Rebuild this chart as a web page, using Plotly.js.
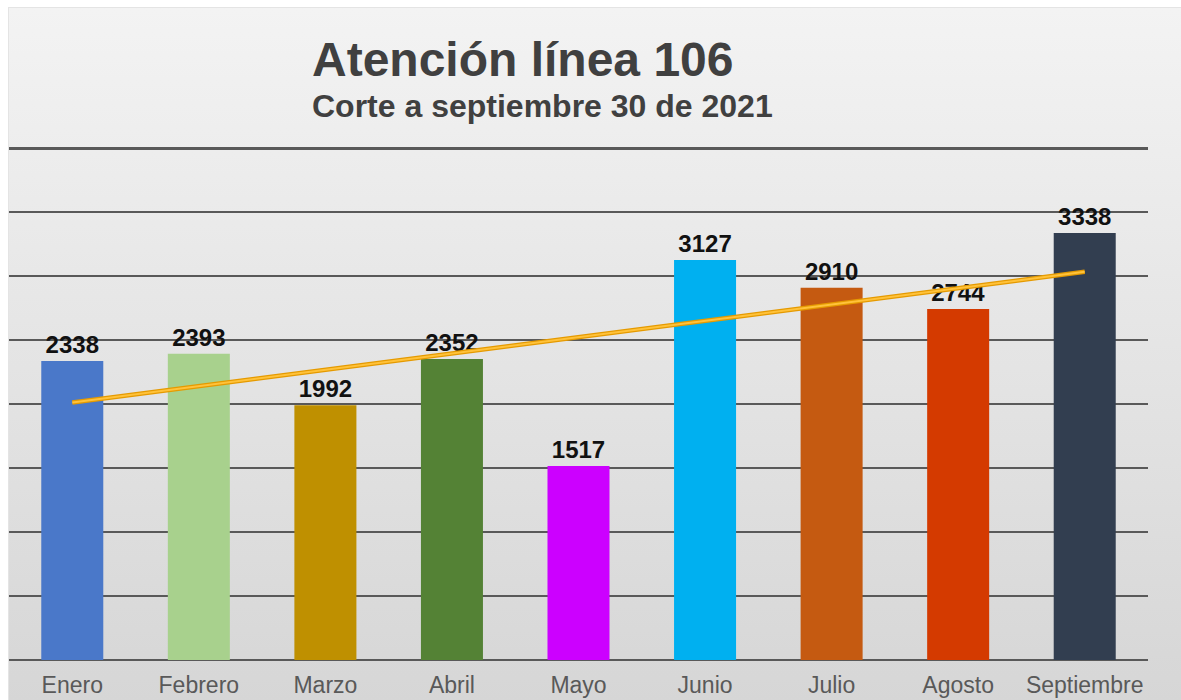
<!DOCTYPE html>
<html>
<head>
<meta charset="utf-8">
<script src="https://cdn.plot.ly/plotly-3.0.1.min.js"></script>
<style>
  html, body { margin: 0; padding: 0; background: #ffffff; }
  #bg { position: absolute; left: 8px; top: 7px; width: 1173px; height: 693px;
        background: linear-gradient(to bottom, #f3f3f3 0%, #e6e6e6 45%, #d6d6d6 100%);
        border-top: 1px solid #e4e4e4; border-left: 1px solid #e4e4e4; }
  #chart { position: absolute; left: 0; top: 0; width: 1181px; height: 700px; }
</style>
</head>
<body>
<div id="bg"></div>
<div id="chart"></div>
<script>
const months = ["Enero", "Febrero", "Marzo", "Abril", "Mayo", "Junio", "Julio", "Agosto", "Septiembre"];
const calls = [2338, 2393, 1992, 2352, 1517, 3127, 2910, 2744, 3338];
const barColors = ["#4A78C9", "#A8D18D", "#BF9000", "#548235", "#CC00FF", "#00B0F0", "#C55A11", "#D43A00", "#323E50"];
const titleText = "Atención línea 106";
const subtitleText = "Corte a septiembre 30 de 2021";

// Linear trendline (least squares) over the month index, as the spreadsheet does
const n = calls.length;
const xs = calls.map((_, i) => i + 1);
const mx = xs.reduce((a, b) => a + b, 0) / n;
const my = calls.reduce((a, b) => a + b, 0) / n;
let sxy = 0, sxx = 0;
for (let i = 0; i < n; i++) { sxy += (xs[i] - mx) * (calls[i] - my); sxx += (xs[i] - mx) ** 2; }
const slope = sxy / sxx, intercept = my - slope * mx;
const trendX = [months[0], months[n - 1]];
const trendY = [intercept + slope * xs[0], intercept + slope * xs[n - 1]];

const data = [
  {
    type: "bar", x: months, y: calls,
    marker: { color: barColors, line: { width: 0 } },
    text: calls.map(v => "<b>" + v + "</b>"), textposition: "outside", cliponaxis: false,
    textfont: { family: "Liberation Sans, Arial, sans-serif", size: 24, color: "#111111" },
    hoverinfo: "x+y", showlegend: false
  },
  {
    type: "scatter", mode: "lines", x: trendX, y: trendY,
    line: { color: "#E59A00", width: 4.5 }, hoverinfo: "skip", showlegend: false
  },
  {
    type: "scatter", mode: "lines", x: trendX, y: trendY,
    line: { color: "#FFC23A", width: 2 }, hoverinfo: "skip", showlegend: false
  }
];

const layout = {
  width: 1181, height: 700,
  margin: { l: 9, r: 33, t: 147, b: 40, pad: 0 },
  paper_bgcolor: "rgba(0,0,0,0)", plot_bgcolor: "rgba(0,0,0,0)",
  bargap: 0.51,
  font: { family: "Liberation Sans, Arial, sans-serif", color: "#595959" },
  xaxis: {
    type: "category", showgrid: false, zeroline: false, showline: false,
    ticks: "", ticklabelstandoff: 9, tickfont: { size: 23, color: "#595959" }, fixedrange: true
  },
  yaxis: {
    range: [0, 4010], dtick: 500, showgrid: true, gridcolor: "#595959", gridwidth: 2.5,
    zeroline: true, zerolinecolor: "#595959", zerolinewidth: 2.5,
    showticklabels: false, ticks: "", fixedrange: true
  },
  annotations: [
    { text: "<b>" + titleText + "</b>", xref: "paper", yref: "paper", x: 0.2643, y: 1.17,
      xanchor: "left", yanchor: "middle", showarrow: false,
      font: { family: "Liberation Sans, Arial, sans-serif", size: 48, color: "#404040" } },
    { text: "<b>" + subtitleText + "</b>", xref: "paper", yref: "paper", x: 0.2643, y: 1.08,
      xanchor: "left", yanchor: "middle", showarrow: false,
      font: { family: "Liberation Sans, Arial, sans-serif", size: 32, color: "#404040" } }
  ]
};

Plotly.newPlot("chart", data, layout, { displayModeBar: false, staticPlot: true });
</script>
</body>
</html>
